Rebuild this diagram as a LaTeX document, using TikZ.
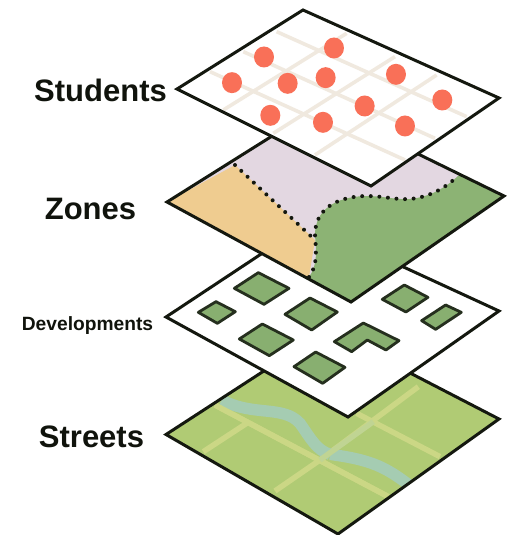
\documentclass[tikz,border=0pt]{standalone}
\usepackage{fontspec}
\setmainfont{Liberation Sans}
\definecolor{ink}{HTML}{14180F}
\definecolor{gridc}{HTML}{F0E9DF}
\definecolor{dotc}{HTML}{F97058}
\definecolor{zorange}{HTML}{EFCC90}
\definecolor{zlilac}{HTML}{E3D7E1}
\definecolor{zgreen}{HTML}{8CB374}
\definecolor{bgreen}{HTML}{88AF70}
\definecolor{sgreen}{HTML}{B0CB74}
\definecolor{sroad}{HTML}{CBD785}
\definecolor{sriver}{HTML}{A5CCB2}
\tikzset{
  plate/.style={draw=ink,line width=3pt,line join=miter},
  gridline/.style={draw=gridc,line width=3.6pt},
  student/.style={fill=dotc,draw=none},
  border/.style={draw=ink,line join=round,dash pattern=on 0pt off 8.6pt,line cap=round,line width=4pt},
  building/.style={fill=bgreen,draw=ink!85!bgreen,line width=2.8pt,line join=round},
  road/.style={draw=sroad,line width=5.5pt},
  river/.style={draw=sriver,line width=11.5pt},
  lab/.style={font=\bfseries,anchor=base,text=ink!80!black,inner sep=0pt}
}
\begin{document}
\begin{tikzpicture}[x=1pt,y=-1pt,
  zs/.style={shift={(160,365)},x=0.3333pt,y=-0.3333pt},
  zb/.style={shift={(160,250)},x=0.3333pt,y=-0.3333pt},
  zt/.style={shift={(160,0)},x=0.3333pt,y=-0.3333pt}]
\useasboundingbox (0,0) rectangle (513,535);
\fill[white] (0,0) rectangle (513,535);
% Streets
\coordinate (sL) at (166,434.5);
\coordinate (sB) at (338,534);
\coordinate (sR) at (499,419);
\coordinate (sT) at (327,330);
\begin{scope}
\clip (sL)--(sT)--(sR)--(sB)--cycle;
\fill[sgreen] (sL)--(sT)--(sR)--(sB)--cycle;
\begin{scope}[zs]
\draw[road] (165,120) -- (685,395);
\draw[road] (590,145) -- (840,275);
\draw[road] (130,260) -- (260,175);
\draw[road] (345,378) -- (480,285) -- (775,65);
\draw[river] (185,105) .. controls (280,155) and (370,120) .. (420,175) .. controls (455,225) and (470,255) .. (510,268);
\draw[river] (510,268) .. controls (640,285) and (680,310) .. (745,358);
\draw[road] (165,120) -- (685,395);
\draw[road,sroad!70!sriver] (480,285) -- (640,170);
\end{scope}
\end{scope}
\draw[plate] (sL)--(sT)--(sR)--(sB)--cycle;
% Developments
\coordinate (dL) at (166,317);
\coordinate (dT) at (308,223);
\coordinate (dR) at (499,311);
\coordinate (dB) at (348,417);
\fill[white] (dL)--(dT)--(dR)--(dB)--cycle;
\draw[plate] (dL)--(dT)--(dR)--(dB)--cycle;
\begin{scope}[zb]
\draw[building] (295,68)--(387,115)--(312,163)--(223,115)--cycle;
\draw[building] (168,155)--(226,185)--(172,220)--(115,187)--cycle;
\draw[building] (450,144)--(532,186)--(455,240)--(375,193)--cycle;
\draw[building] (307,222)--(400,270)--(328,317)--(238,267)--cycle;
\draw[building] (610,219)--(717,272)--(678,300)--(622,270)--(575,305)--(523,275)--cycle;
\draw[building] (467,306)--(555,352)--(488,400)--(402,350)--cycle;
\draw[building] (733,105)--(804,142)--(738,186)--(667,148)--cycle;
\draw[building] (857,165)--(904,187)--(827,238)--(785,212)--cycle;
\end{scope}
% Zones
\coordinate (zL) at (167,202);
\coordinate (zT) at (320,106);
\coordinate (zR) at (504,196);
\coordinate (zB) at (351,302);
\coordinate (z1) at (235,165);
\coordinate (z2) at (315,240);
\coordinate (z3) at (309,277);
\coordinate (z4) at (458,176);
\begin{scope}
\clip (zL)--(zT)--(zR)--(zB)--cycle;
\fill[zlilac] (zL)--(zT)--(zR)--(zB)--cycle;
\fill[zorange] (zL)--(z1)--(z2)--(z3)--(310,285)--(zB)--cycle;
\fill[zgreen] (z3) .. controls (318,265) and (316,250) .. (315,235) .. controls (315,210) and (335,197) .. (365,196) .. controls (385,196) and (395,200) .. (410,199) .. controls (430,197) and (445,188) .. (z4) -- (470,170) -- (zR) -- (zB) -- (310,285) -- cycle;
\draw[border] (z1)--(z2);
\draw[border] (z3) .. controls (318,265) and (316,250) .. (315,235) .. controls (315,210) and (335,197) .. (365,196) .. controls (385,196) and (395,200) .. (410,199) .. controls (430,197) and (445,188) .. (z4);
\end{scope}
\draw[plate] (zL)--(zT)--(zR)--(zB)--cycle;
% Students
\coordinate (tL) at (177,89);
\coordinate (tT) at (303,10);
\coordinate (tR) at (499,98);
\coordinate (tB) at (371,186);
\fill[white] (tL)--(tT)--(tR)--(tB)--cycle;
\begin{scope}[zt]
\draw[gridline] (350,95)--(920,350);
\draw[gridline] (250,155)--(825,415);
\draw[gridline] (150,215)--(735,480);
\draw[gridline] (190,330)--(560,100);
\draw[gridline] (340,400)--(705,170);
\draw[gridline] (465,465)--(830,225);
\foreach \p in {(312,171),(522,144),(216,248),(383,250),(497,233),(708,223),(847,300),(331,346),(489,367),(614,318),(735,378)}
  \fill[student] \p circle[x radius=10pt,y radius=10.5pt];
\end{scope}
\draw[plate] (tL)--(tT)--(tR)--(tB)--cycle;
% Labels
\node[lab,font=\fontsize{31}{31}\bfseries] (lstudents) at (100.5,101) {Students};
\node[lab,font=\fontsize{31}{31}\bfseries] (lzones) at (90.5,219) {Zones};
\node[lab,font=\fontsize{19.2}{19}\bfseries] (ldev) at (87.5,330.5) {Developments};
\node[lab,font=\fontsize{31}{31}\bfseries] (lstreets) at (91.5,447) {Streets};
\end{tikzpicture}
\end{document}
